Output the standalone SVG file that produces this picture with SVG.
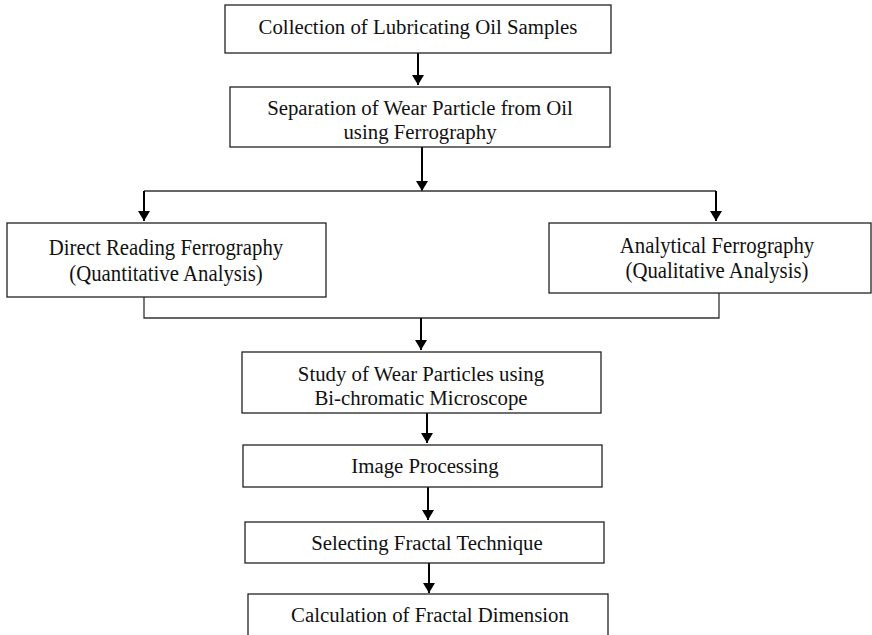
<svg xmlns="http://www.w3.org/2000/svg" width="872" height="635" viewBox="0 0 872 635">
<defs>
<marker id="ah" viewBox="0 0 10 12" refX="10" refY="6" markerWidth="10" markerHeight="12" markerUnits="userSpaceOnUse" orient="auto">
<path d="M0,0 L10,6 L0,12 Z" fill="#000"/>
</marker>
<style>
.box{fill:#fff;stroke:#222;stroke-width:1.3}
.t{font-family:"Liberation Serif","Times New Roman","DejaVu Serif",serif;font-size:20.8px;fill:#111;text-anchor:middle}
.arr{stroke:#000;stroke-width:2;fill:none;marker-end:url(#ah)}
.ln{stroke:#333;stroke-width:1.3;fill:none}
</style>
</defs>
<rect width="872" height="635" fill="#fff"/>
<g id="connectors">
<line class="arr" x1="418" y1="53" x2="418" y2="85"/>
<line class="arr" x1="422" y1="147" x2="422" y2="191"/>
<polyline class="ln" points="144,191 716,191"/>
<line class="arr" x1="144" y1="191" x2="144" y2="221"/>
<line class="arr" x1="716" y1="191" x2="716" y2="221"/>
<polyline class="ln" points="144,297 144,318 719,318 719,293"/>
<line class="arr" x1="421" y1="318" x2="421" y2="350"/>
<line class="arr" x1="427" y1="413" x2="427" y2="443"/>
<line class="arr" x1="428" y1="487" x2="428" y2="520"/>
<line class="arr" x1="429" y1="563" x2="429" y2="593"/>
</g>
<g id="n1"><rect class="box" x="225" y="5" width="386" height="48"/><text class="t" x="418" y="34">Collection of Lubricating Oil Samples</text></g>
<g id="n2"><rect class="box" x="230" y="87" width="380" height="60"/><text class="t" x="420" y="115">Separation of Wear Particle from Oil</text><text class="t" x="420" y="139">using Ferrography</text></g>
<g id="n3"><rect class="box" x="7" y="223" width="319" height="74"/><text class="t" transform="translate(166,255) scale(1,1.15)">Direct Reading Ferrography</text><text class="t" transform="translate(166,281) scale(1,1.15)">(Quantitative Analysis)</text></g>
<g id="n4"><rect class="box" x="549" y="223" width="322" height="70"/><text class="t" transform="translate(717,253) scale(1,1.08)">Analytical Ferrography</text><text class="t" transform="translate(717,278) scale(1,1.08)">(Qualitative Analysis)</text></g>
<g id="n5"><rect class="box" x="242" y="352" width="359" height="61"/><text class="t" x="421" y="381">Study of Wear Particles using</text><text class="t" x="421" y="405">Bi-chromatic Microscope</text></g>
<g id="n6"><rect class="box" x="243" y="445" width="359" height="42"/><text class="t" x="425" y="473">Image Processing</text></g>
<g id="n7"><rect class="box" x="245" y="522" width="359" height="41"/><text class="t" x="427" y="550">Selecting Fractal Technique</text></g>
<g id="n8"><rect class="box" x="248" y="594" width="360" height="60"/><text class="t" x="430" y="622">Calculation of Fractal Dimension</text></g>
</svg>
